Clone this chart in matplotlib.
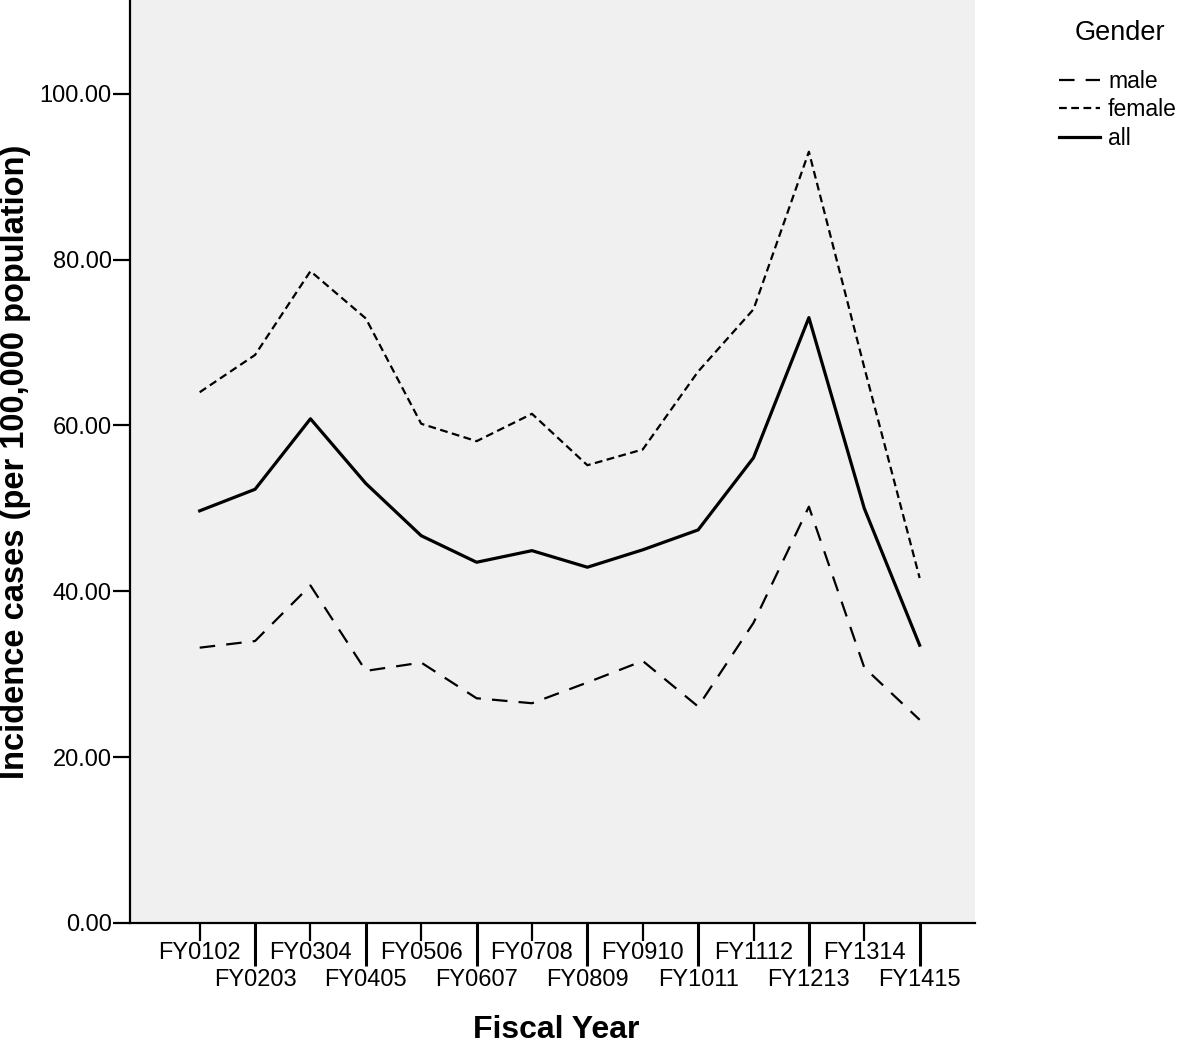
import numpy as np
import matplotlib.pyplot as plt

plt.rcParams["font.family"] = ["Liberation Sans", "DejaVu Sans"]

# Incidence per 100,000 population
years = ["FY0102", "FY0203", "FY0304", "FY0405", "FY0506", "FY0607", "FY0708",
         "FY0809", "FY0910", "FY1011", "FY1112", "FY1213", "FY1314", "FY1415"]
male = [33.2, 34.0, 40.7, 30.4, 31.4, 27.1, 26.5, 29.0, 31.6, 26.1, 36.2, 50.2, 30.8, 24.5]
female = [64.0, 68.5, 78.6, 72.9, 60.2, 58.1, 61.4, 55.2, 57.1, 66.5, 74.0, 93.0, 67.0, 41.6]
all_ = [49.7, 52.3, 60.8, 53.0, 46.7, 43.5, 44.9, 42.9, 45.0, 47.4, 56.1, 73.0, 50.0, 33.5]

fig = plt.figure(figsize=(11.81, 10.46), dpi=100)
ax = fig.add_axes([0.110, 0.1176, 0.7156, 0.8824])
ax.set_facecolor("#f0f0f0")

x = np.arange(len(years))
ax.plot(x, male, color="black", linewidth=1.6, dashes=(7, 5), label="male")
ax.plot(x, female, color="black", linewidth=1.6, dashes=(3.5, 2), label="female")
ax.plot(x, all_, color="black", linewidth=2.3, label="all")

ax.set_xlim(-1.26, 14.0)
ax.set_ylim(0, 111.3)

# y axis
ax.set_yticks(np.arange(0, 101, 20))
ax.set_yticklabels([f"{v:.2f}" for v in np.arange(0, 101, 20)])
ax.tick_params(axis="y", length=12, width=1.6, pad=1, labelsize=17)

# x axis: staggered labels, short ticks on top row, long ticks on bottom row
ax.set_xticks(x[::2])
ax.set_xticklabels(years[::2])
ax.set_xticks(x[1::2], minor=True)
ax.set_xticklabels(years[1::2], minor=True)
ax.tick_params(axis="x", which="major", length=13, width=1.6, pad=1, labelsize=17)
ax.tick_params(axis="x", which="minor", length=31, width=2.2, pad=2, labelsize=17)

for side in ["top", "right"]:
    ax.spines[side].set_visible(False)
for side in ["left", "bottom"]:
    ax.spines[side].set_linewidth(1.6)

ax.set_ylabel("Incidence cases (per 100,000 population)", fontsize=23.5,
              fontweight="bold", labelpad=6)
ax.set_xlabel("Fiscal Year", fontsize=23, fontweight="bold", va="center")
ax.xaxis.set_label_coords((556 - 130) / 845, (923 - 1030) / 923)

# legend: title as separate text so the gap above the entries matches
fig.text(1120 / 1181, 1 - 33 / 1046, "Gender", fontsize=19.5, ha="center", va="center")
leg = fig.legend(loc="upper left", bbox_to_anchor=(0.879, 1 - 49 / 1046), frameon=False,
                 fontsize=16.5, handlelength=1.8, handletextpad=0.35, labelspacing=0.25)

fig.savefig("out.png", dpi=100)
